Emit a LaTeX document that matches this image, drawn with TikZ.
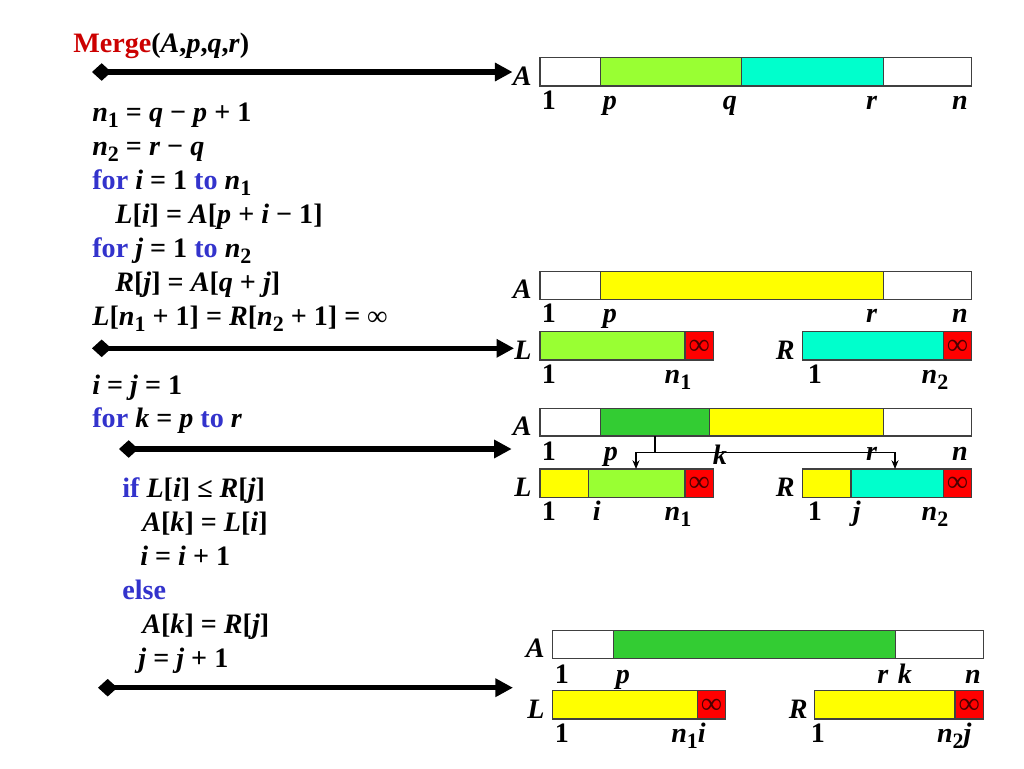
\documentclass[tikz,border=0pt]{standalone}
\usepackage{fontspec}
\setmainfont{Liberation Serif}
\usepackage{xcolor}
\usepackage{tikz}
\usetikzlibrary{arrows.meta, positioning, calc}
\definecolor{mergered}{HTML}{CC0000}
\definecolor{kwblue}{HTML}{3333CC}
\definecolor{lgreen}{HTML}{99FF33}
\definecolor{aqua}{HTML}{00FFCC}
\definecolor{yel}{HTML}{FFFF00}
\definecolor{dgreen}{HTML}{33CC33}
\definecolor{infred}{HTML}{FF0000}
\definecolor{edge}{HTML}{404040}
\newcommand\codefont{\fontsize{16}{19}\selectfont\bfseries}
\newcommand\cv[1]{\textit{#1}}
\newcommand\kw[1]{\textcolor{kwblue}{#1}}
\newcommand\sub[1]{\raisebox{-0.5ex}{\fontsize{12.5}{12.5}\selectfont #1}}

\begin{document}
\begin{tikzpicture}[
    x=0.02cm, y=-0.02cm,
    code/.style={anchor=base west, inner sep=0pt, font=\codefont},
    idx/.style={anchor=base, inner sep=0pt, font=\codefont},
    arr/.style={anchor=base east, inner sep=0pt, font=\codefont\itshape},
    inf/.style={inner sep=0pt, font=\fontsize{17}{17}\selectfont, text=black!70!red},
    cellbox/.style={draw=edge, line width=0.6pt},
    bigarrow/.style={{Diamond[length=11pt, width=10pt]}-{Triangle[length=10pt, width=10pt]}, line width=3pt, black},
    fork/.style={-{Stealth[length=5pt, width=4pt]}, line width=0.6pt, black},
]
    \useasboundingbox (0,0) rectangle (1024,768);

    % pseudocode
    \node[code] (merge) at (73,52.5) {\textcolor{mergered}{Merge}(\cv{A},\cv{p},\cv{q},\cv{r})};
    \node[code] (ln1) at (92,121.5) {\cv{n}\sub{1} = \cv{q} − \cv{p} + 1};
    \node[code] (ln2) at (92,155.5) {\cv{n}\sub{2} = \cv{r} − \cv{q}};
    \node[code] (ln3) at (92,189.5) {\kw{for} \cv{i} = 1 \kw{to} \cv{n}\sub{1}};
    \node[code] (ln4) at (115,223.5) {\cv{L}[\cv{i}] = \cv{A}[\cv{p} + \cv{i} − 1]};
    \node[code] (ln5) at (92,257.5) {\kw{for} \cv{j} = 1 \kw{to} \cv{n}\sub{2}};
    \node[code] (ln6) at (115,291) {\cv{R}[\cv{j}] = \cv{A}[\cv{q} + \cv{j}]};
    \node[code] (ln7) at (92,325) {\cv{L}[\cv{n}\sub{1} + 1] = \cv{R}[\cv{n}\sub{2} + 1] = ∞};
    \node[code] (ln8) at (92,394) {\cv{i} = \cv{j} = 1};
    \node[code] (ln9) at (92,427) {\kw{for} \cv{k} = \cv{p} \kw{to} \cv{r}};
    \node[code] (ln10) at (122,497) {\kw{if} \cv{L}[\cv{i}] ≤ \cv{R}[\cv{j}]};
    \node[code] (ln11) at (142,531) {\cv{A}[\cv{k}] = \cv{L}[\cv{i}]};
    \node[code] (ln12) at (140,565) {\cv{i} = \cv{i} + 1};
    \node[code] (ln13) at (122,599) {\kw{else}};
    \node[code] (ln14) at (142,633) {\cv{A}[\cv{k}] = \cv{R}[\cv{j}]};
    \node[code] (ln15) at (138,667) {\cv{j} = \cv{j} + 1};

    % state 1: A[p..q] and A[q+1..r]
    \filldraw[cellbox, fill=white] (540,57.3) rectangle (600.7,86);
    \filldraw[cellbox, fill=lgreen] (600.7,57.3) rectangle (741.7,86);
    \filldraw[cellbox, fill=aqua] (741.7,57.3) rectangle (883.3,86);
    \filldraw[cellbox, fill=white] (883.3,57.3) rectangle (971.7,86);
    \node[arr] (a1) at (532,85) {A};
    \node[idx] (a1one) at (549,109) {1};
    \node[idx] (a1p) at (610,109) {\cv{p}};
    \node[idx] (a1q) at (730,109) {\cv{q}};
    \node[idx] (a1r) at (871.7,109) {\cv{r}};
    \node[idx] (a1n) at (960,109) {\cv{n}};

    % state 2: copies L and R
    \filldraw[cellbox, fill=white] (540,271.7) rectangle (600.7,299.3);
    \filldraw[cellbox, fill=yel] (600.7,271.7) rectangle (883.3,299.3);
    \filldraw[cellbox, fill=white] (883.3,271.7) rectangle (971.7,299.3);
    \node[arr] (a2) at (532,298) {A};
    \node[idx] (a2one) at (549,322.5) {1};
    \node[idx] (a2p) at (610,322.5) {\cv{p}};
    \node[idx] (a2r) at (871.7,322.5) {\cv{r}};
    \node[idx] (a2n) at (960,322.5) {\cv{n}};
    \filldraw[cellbox, fill=lgreen] (540,331.7) rectangle (685,360);
    \filldraw[cellbox, fill=infred] (685,331.7) rectangle (713.3,360);
    \node[inf] (l2inf) at (699.2,347) {∞};
    \node[arr] (l2) at (532,359) {L};
    \node[idx] (l2one) at (549,383) {1};
    \node[idx] (l2n) at (678,383) {\cv{n}\sub{1}};
    \filldraw[cellbox, fill=aqua] (802.3,331.7) rectangle (943.3,360);
    \filldraw[cellbox, fill=infred] (943.3,331.7) rectangle (971.7,360);
    \node[inf] (r2inf) at (957.5,347) {∞};
    \node[arr] (r2) at (795,359) {R};
    \node[idx] (r2one) at (815,383) {1};
    \node[idx] (r2n) at (935,383) {\cv{n}\sub{2}};

    % state 3: merging
    \filldraw[cellbox, fill=white] (540,408.3) rectangle (600.7,436);
    \filldraw[cellbox, fill=dgreen] (600.7,408.3) rectangle (709.3,436);
    \filldraw[cellbox, fill=yel] (709.3,408.3) rectangle (883.3,436);
    \filldraw[cellbox, fill=white] (883.3,408.3) rectangle (971.7,436);
    \node[arr] (a3) at (532,435) {A};
    \node[idx] (a3one) at (549,460) {1};
    \node[idx] (a3p) at (611,460) {\cv{p}};
    \node[idx] (a3k) at (720,464) {\cv{k}};
    \node[idx] (a3r) at (871.7,460) {\cv{r}};
    \node[idx] (a3n) at (960,460) {\cv{n}};
    \filldraw[cellbox, fill=yel] (540,469) rectangle (588.3,497.3);
    \filldraw[cellbox, fill=lgreen] (588.3,469) rectangle (685,497.3);
    \filldraw[cellbox, fill=infred] (685,469) rectangle (713.3,497.3);
    \node[inf] (l3inf) at (699.2,484.4) {∞};
    \node[arr] (l3) at (532,496) {L};
    \node[idx] (l3one) at (549,520) {1};
    \node[idx] (l3i) at (596.7,520) {\cv{i}};
    \node[idx] (l3n) at (678,520) {\cv{n}\sub{1}};
    \filldraw[cellbox, fill=yel] (802.3,469) rectangle (851,497.3);
    \filldraw[cellbox, fill=aqua] (851,469) rectangle (943.3,497.3);
    \filldraw[cellbox, fill=infred] (943.3,469) rectangle (971.7,497.3);
    \node[inf] (r3inf) at (957.5,484.4) {∞};
    \node[arr] (r3) at (795,496) {R};
    \node[idx] (r3one) at (815,520) {1};
    \node[idx] (r3j) at (856.7,520) {\cv{j}};
    \node[idx] (r3n) at (935,520) {\cv{n}\sub{2}};
    \coordinate (kdone) at (655,436);
    \coordinate (split) at (655,452.3);
    \coordinate (ltop) at (636,469);
    \coordinate (rtop) at (895,469);
    \draw[line width=0.6pt] (kdone) -- (split);
    \draw[fork] (split) -| (ltop);
    \draw[fork] (split) -| (rtop);

    % state 4: done
    \filldraw[cellbox, fill=white] (552.3,630.7) rectangle (613.3,658.3);
    \filldraw[cellbox, fill=dgreen] (613.3,630.7) rectangle (895.7,658.3);
    \filldraw[cellbox, fill=white] (895.7,630.7) rectangle (983.3,658.3);
    \node[arr] (a4) at (545,657) {A};
    \node[idx] (a4one) at (562,683) {1};
    \node[idx] (a4p) at (623,683) {\cv{p}};
    \node[idx] (a4r) at (883,683) {\cv{r}};
    \node[idx] (a4k) at (905,683) {\cv{k}};
    \node[idx] (a4n) at (973,683) {\cv{n}};
    \filldraw[cellbox, fill=yel] (552.3,690.7) rectangle (697.3,719);
    \filldraw[cellbox, fill=infred] (697.3,690.7) rectangle (725.7,719);
    \node[inf] (l4inf) at (711.5,706) {∞};
    \node[arr] (l4) at (545,718) {L};
    \node[idx] (l4one) at (562,742) {1};
    \node[code] (l4n) at (671,742) {\cv{n}\sub{1}\cv{i}};
    \filldraw[cellbox, fill=yel] (814.3,690.7) rectangle (955,719);
    \filldraw[cellbox, fill=infred] (955,690.7) rectangle (983.3,719);
    \node[inf] (r4inf) at (969.2,706) {∞};
    \node[arr] (r4) at (808,718) {R};
    \node[idx] (r4one) at (818,742) {1};
    \node[code] (r4n) at (936.7,742) {\cv{n}\sub{2}\cv{j}};

    % pointers from code to states
    \coordinate (s1) at (92,72);
    \coordinate (s2) at (92,348.3);
    \coordinate (s3) at (119,449);
    \coordinate (e3) at (511.7,449);
    \coordinate (s4) at (98,687.7);
    \coordinate (e4) at (513,687.7);
    \draw[bigarrow] (s1) -- (s1 -| a1.west);
    \draw[bigarrow] (s2) -- (s2 -| l2.west);
    \draw[bigarrow] (s3) -- (e3);
    \draw[bigarrow] (s4) -- (e4);
\end{tikzpicture}
\end{document}
